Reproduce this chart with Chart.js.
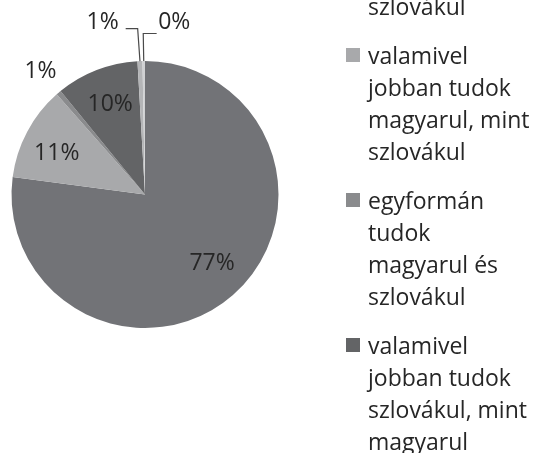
<!DOCTYPE html>
<html lang="hu">
<head>
<meta charset="utf-8">
<title>Nyelvtudás</title>
<script src="https://cdn.jsdelivr.net/npm/chart.js@4.4.1/dist/chart.umd.min.js"></script>
<style>
    html, body { margin: 0; padding: 0; background: #fff; overflow: hidden; }
    #wrap { position: relative; width: 534px; height: 453px; overflow: hidden; }
    #pieChart { position: absolute; left: 0; top: 0; }
    #legend {
        position: absolute; left: 346px; top: -106.5px;
        font-family: 'Open Sans', sans-serif; font-size: 23px; line-height: 32px; color: #262626;
    }
    .legend-item { display: flex; align-items: flex-start; margin-bottom: 17px; }
    .legend-box { width: 14px; height: 14px; margin-top: 9px; margin-right: 8px; flex: none; }
</style>
</head>
<body>
<div id="wrap">
    <canvas id="pieChart" width="534" height="453"></canvas>
    <div id="legend"></div>
</div>
<script>
// Categories (legend lines as broken in the picture)
const categories = [
    ['sokkal', 'jobban tudok', 'magyarul, mint', 'szlovákul'],
    ['valamivel', 'jobban tudok', 'magyarul, mint', 'szlovákul'],
    ['egyformán', 'tudok', 'magyarul és', 'szlovákul'],
    ['valamivel', 'jobban tudok', 'szlovákul, mint', 'magyarul'],
    ['sokkal', 'jobban tudok', 'szlovákul, mint', 'magyarul'],
    ['nem tudom']
];

// Share of answers (%)
const values = [77.1, 11.4, 0.6, 10.0, 0.6, 0.3];

const sliceColors = ['#727377', '#a8a9ab', '#8a8b8d', '#636466', '#b4b5b7', '#d0d1d3'];

// Where each percentage label goes (r = fraction of radius, turn = degrees)
const labelPlacement = {
    0: { r: 0.72, turn: -3 },
    1: { r: 0.73, turn: -3 },
    2: { r: 1.21, turn: 0 },
    3: { r: 0.72, turn: 0 },
    4: { leader: true, dir: -1, rise: 32.5, bend: -2.3, run: 12, gap: 7, lift: 6.5 },
    5: { leader: true, dir: 1, rise: 27.5, bend: -0.5, run: 13.4, gap: 1.5, lift: 11.5 }
};

// Draw the percentage labels on the slices
const percentLabels = {
    id: 'percentLabels',
    afterDatasetsDraw(chart) {
        const ctx = chart.ctx;
        const meta = chart.getDatasetMeta(0);
        const total = values.reduce((a, b) => a + b, 0);

        ctx.save();
        ctx.font = '23px "Open Sans"';
        ctx.fillStyle = '#262626';
        ctx.strokeStyle = '#4a4a4a';
        ctx.lineWidth = 1.2;
        ctx.textBaseline = 'middle';

        meta.data.forEach((arc, i) => {
            const { x, y, startAngle, endAngle, outerRadius } =
                arc.getProps(['x', 'y', 'startAngle', 'endAngle', 'outerRadius'], true);
            const place = labelPlacement[i];
            const mid = (startAngle + endAngle) / 2 + (place.turn || 0) * Math.PI / 180;
            const cos = Math.cos(mid);
            const sin = Math.sin(mid);
            const text = Math.round(values[i] / total * 100) + '%';

            if (place.leader) {
                const ex = x + cos * outerRadius;
                const ey = y + sin * outerRadius;
                const kx = ex + place.bend;
                const ky = ey - place.rise;
                const tx = kx + place.dir * place.run;
                ctx.beginPath();
                ctx.moveTo(ex, ey);
                ctx.lineTo(kx, ky);
                ctx.lineTo(tx, ky);
                ctx.stroke();
                ctx.textAlign = place.dir < 0 ? 'right' : 'left';
                ctx.fillText(text, tx + place.dir * place.gap, ky - place.lift);
            } else {
                const d = outerRadius * place.r;
                ctx.textAlign = 'center';
                ctx.fillText(text, x + cos * d, y + sin * d);
            }
        });
        ctx.restore();
    }
};

// Legend as html, built from the same arrays
function buildLegend() {
    const container = document.getElementById('legend');
    container.innerHTML = categories.map((lines, i) => `
        <div class="legend-item">
            <span class="legend-box" style="background:${sliceColors[i]}"></span>
            <div>${lines.join('<br>')}</div>
        </div>
    `).join('');
}

function initChart() {
    const ctx = document.getElementById('pieChart').getContext('2d');
    new Chart(ctx, {
        type: 'pie',
        data: {
            labels: categories.map(l => l.join(' ')),
            datasets: [{
                data: values,
                backgroundColor: sliceColors,
                borderWidth: 0,
                hoverOffset: 0
            }]
        },
        options: {
            responsive: false,
            animation: false,
            events: [],
            layout: {
                padding: { left: 11.5, right: 255.5, top: 61, bottom: 125 }
            },
            plugins: {
                legend: { display: false },
                tooltip: { enabled: false }
            }
        },
        plugins: [percentLabels]
    });
}

document.addEventListener('DOMContentLoaded', () => {
    buildLegend();
    initChart();
});
</script>
</body>
</html>
